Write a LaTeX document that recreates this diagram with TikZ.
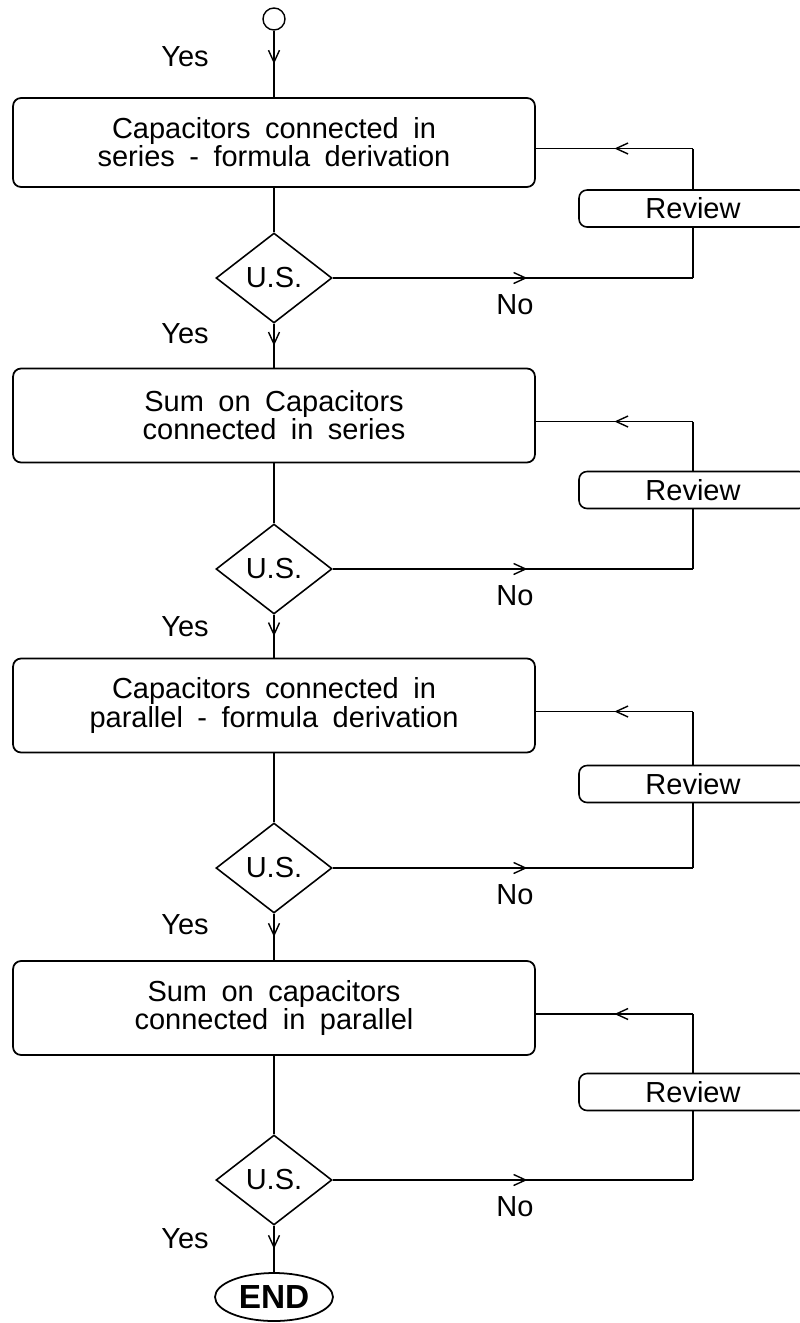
\documentclass[tikz,border=0pt]{standalone}
\usepackage{fontspec}
\setmainfont{Liberation Sans}
\usetikzlibrary{shapes.geometric,arrows.meta,decorations.markings}
\newcommand\flowfont{\fontsize{16.5}{16}\selectfont\spaceskip=0.5em plus 0.1em\relax}
\begin{document}
\begin{tikzpicture}[x=0.02cm,y=-0.02cm,
  stage/.style={draw,line width=1pt,rounded corners=0.16cm,minimum width=10.44cm,minimum height=1.88cm,align=center,font=\flowfont},
  test/.style={draw,diamond,line width=0.9pt,aspect=1.3,inner sep=0pt,minimum width=2.32cm,minimum height=1.8cm,font=\flowfont},
  review/.style={draw,line width=0.9pt,rounded corners=0.16cm,minimum width=4.56cm,minimum height=0.74cm,inner sep=0pt,font=\flowfont},
  flow/.style={line width=0.8pt},
  midarrow/.style={flow,postaction={decorate},decoration={markings,mark=at position #1 with {\arrow[line width=0.8pt]{Straight Barb[length=0.24cm,width=0.22cm]}}}},
  midarrow/.default=0.5,
  every node/.append style={font=\flowfont}]
\useasboundingbox (0,0) rectangle (799,1323);
\node[draw,circle,line width=0.8pt,minimum size=0.44cm,inner sep=0pt] (start) at (274,19) {};
\node[stage,minimum height=1.78cm] (b1) at (274,142.5) {Capacitors connected in\\series - formula derivation};
\node[test] (d1) at (274,278) {U.S.};
\node[review] (r1) at (693,208.5) {Review};
\node[stage] (b2) at (274,415.5) {Sum on Capacitors\\connected in series};
\node[test] (d2) at (274,569) {U.S.};
\node[review] (r2) at (693,490) {Review};
\node[stage] (b3) at (274,705.5) {Capacitors connected in\\parallel - formula derivation};
\node[test] (d3) at (274,868) {U.S.};
\node[review] (r3) at (693,784) {Review};
\node[stage] (b4) at (274,1008) {Sum on capacitors\\connected in parallel};
\node[test] (d4) at (274,1180) {U.S.};
\node[review] (r4) at (693,1092) {Review};
\node[draw,ellipse,line width=1pt,inner sep=0pt,minimum width=2.36cm,minimum height=0.96cm,font=\fontsize{19}{22}\selectfont\bfseries] (end) at (274,1297) {END};
\foreach \a/\b in {start/b1,d1/b2,d2/b3,d3/b4,d4/end}
  \draw[midarrow] (\a.south) -- (\b.north);
\foreach \a/\b in {b1/d1,b2/d2,b3/d3,b4/d4}
  \draw[flow] (\a.south) -- (\b.north);
\foreach \b/\d/\r in {b1/d1/r1,b2/d2/r2,b3/d3/r3,b4/d4/r4}{
  \coordinate (fb) at ([yshift=-0.12cm]\b.east);
  \draw[midarrow=0.54] (\d.east) -- (\d.east -| \r);
  \draw[flow] (\d.east -| \r) -- (\r.south);
  \draw[flow] (\r.north) -- (\r.north |- fb);
  \draw[midarrow] (\r.north |- fb) -- (fb);
}
\node (yes1) at (185,57) {Yes};
\node (yes2) at (185,334) {Yes};
\node (yes3) at (185,627) {Yes};
\node (yes4) at (185,925) {Yes};
\node (yes5) at (185,1239) {Yes};
\node (no1) at (515,305) {No};
\node (no2) at (515,596) {No};
\node (no3) at (515,895) {No};
\node (no4) at (515,1207) {No};
\end{tikzpicture}
\end{document}
